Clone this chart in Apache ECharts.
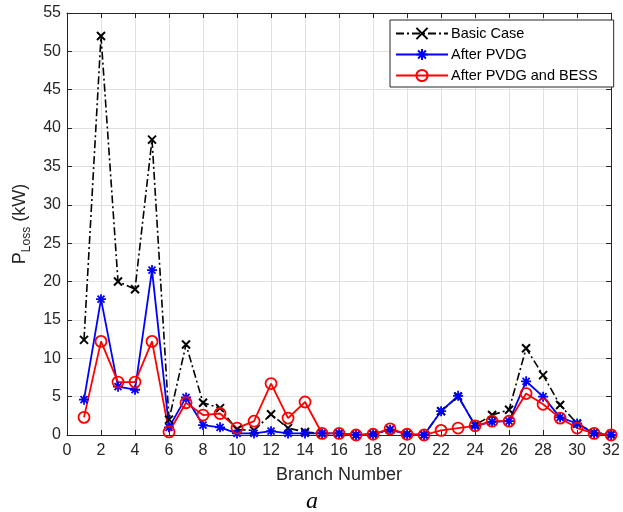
<!DOCTYPE html>
<html>
<head>
<meta charset="utf-8">
<script src="https://cdn.jsdelivr.net/npm/echarts@6/dist/echarts.min.js"></script>
<style>html,body{margin:0;padding:0;background:#fff}#c{width:623px;height:512px}</style>
</head>
<body>
<div id="c"></div>
<script>
const branches = [1,2,3,4,5,6,7,8,9,10,11,12,13,14,15,16,17,18,19,20,21,22,23,24,25,26,27,28,29,30,31,32];
const basicCase = [12.4,52.0,20.0,19.0,38.5,2.0,11.8,4.2,3.5,0.7,0.6,2.7,0.9,0.4,0.2,0.2,0.0,0.1,0.7,0.1,0.0,3.1,5.0,1.3,2.6,3.3,11.3,7.8,3.9,1.5,0.3,0.1];
const afterPVDG = [4.6,17.7,6.3,5.9,21.5,1.0,4.9,1.3,1.0,0.2,0.2,0.5,0.2,0.2,0.2,0.2,0.0,0.1,0.7,0.1,0.0,3.1,5.1,1.2,1.7,1.8,7.0,5.0,2.3,1.5,0.2,0.0];
const afterPVDGBESS = [2.3,12.2,6.9,6.9,12.2,0.4,4.2,2.6,2.8,0.9,1.8,6.7,2.2,4.3,0.2,0.2,0.0,0.1,0.8,0.1,0.0,0.6,0.9,1.2,1.8,1.8,5.4,4.0,2.2,0.9,0.2,0.0];
const seriesNames = ['Basic Case','After PVDG','After PVDG and BESS'];
const xTicks = {min:0,max:32,interval:2};
const yTicks = {min:0,max:55,interval:5};

const pair = arr => branches.map((b,i)=>[b,arr[i]]);
const axisCol = '#262626';
const font = 'Liberation Sans, Arial, sans-serif';
const chart = echarts.init(document.getElementById('c'));
chart.setOption({
  animation:false,
  backgroundColor:'#fff',
  grid:{left:67,right:5,top:13,bottom:77},
  legend:{
    orient:'vertical',left:390,top:20,
    padding:[6,16,4,5],itemGap:6,itemWidth:52,itemHeight:14,
    borderColor:axisCol,borderWidth:1,backgroundColor:'#fff',
    textStyle:{fontFamily:font,fontSize:14.5,color:'#000',padding:[0,0,0,-2]},
    data:seriesNames
  },
  xAxis:[{
    type:'value',min:xTicks.min,max:xTicks.max,interval:xTicks.interval,
    name:'Branch Number',nameLocation:'middle',nameGap:31,
    nameTextStyle:{fontFamily:font,fontSize:18,color:axisCol},
    axisLine:{onZero:false,lineStyle:{color:axisCol,width:1}},
    axisTick:{inside:true,length:5,lineStyle:{color:axisCol}},
    axisLabel:{fontFamily:font,fontSize:16,color:axisCol,margin:8},
    splitLine:{show:true,lineStyle:{color:'#e0e0e0',width:1}}
  },{
    type:'value',position:'top',min:xTicks.min,max:xTicks.max,interval:xTicks.interval,
    axisLine:{onZero:false,lineStyle:{color:axisCol,width:1}},
    axisTick:{inside:true,length:5,lineStyle:{color:axisCol}},
    axisLabel:{show:false},splitLine:{show:false}
  }],
  yAxis:[{
    type:'value',min:yTicks.min,max:yTicks.max,interval:yTicks.interval,
    name:'P{sub|Loss} (kW)',nameLocation:'middle',nameGap:33,
    nameTextStyle:{fontFamily:font,fontSize:18,color:axisCol,
      rich:{sub:{fontFamily:font,fontSize:12,color:axisCol,verticalAlign:'bottom',padding:[12,0,0,0]}}},
    axisLine:{onZero:false,lineStyle:{color:axisCol,width:1}},
    axisTick:{inside:true,length:5,lineStyle:{color:axisCol}},
    axisLabel:{fontFamily:font,fontSize:16,color:axisCol,margin:6},
    splitLine:{show:true,lineStyle:{color:'#e0e0e0',width:1}}
  },{
    type:'value',position:'right',min:yTicks.min,max:yTicks.max,interval:yTicks.interval,
    axisLine:{onZero:false,lineStyle:{color:axisCol,width:1}},
    axisTick:{inside:true,length:5,lineStyle:{color:axisCol}},
    axisLabel:{show:false},splitLine:{show:false}
  }],
  series:[{
    name:seriesNames[0],type:'line',data:pair(basicCase),
    symbol:'path://M0,0L10,10M10,0L0,10',symbolSize:8,
    lineStyle:{color:'#000',width:1.6,type:[8,3,2,3]},
    itemStyle:{color:'#000',borderColor:'#000',borderWidth:2}
  },{
    name:seriesNames[1],type:'line',data:pair(afterPVDG),
    symbol:'path://M5,0L5,10M0,5L10,5M1.5,1.5L8.5,8.5M8.5,1.5L1.5,8.5',symbolSize:10,
    lineStyle:{color:'#0000ff',width:1.8},
    itemStyle:{color:'#0000ff',borderColor:'#0000ff',borderWidth:1.8}
  },{
    name:seriesNames[2],type:'line',data:pair(afterPVDGBESS),
    symbol:'circle',symbolSize:11,
    lineStyle:{color:'#ff0000',width:1.8},
    itemStyle:{color:'rgba(255,255,255,0)',borderColor:'#ff0000',borderWidth:1.8}
  }],
  graphic:[{
    type:'text',left:306,top:490,
    style:{text:'a',font:'italic 24px "Liberation Serif", "Times New Roman", serif',fill:'#000'}
  }]
});
</script>
</body>
</html>
